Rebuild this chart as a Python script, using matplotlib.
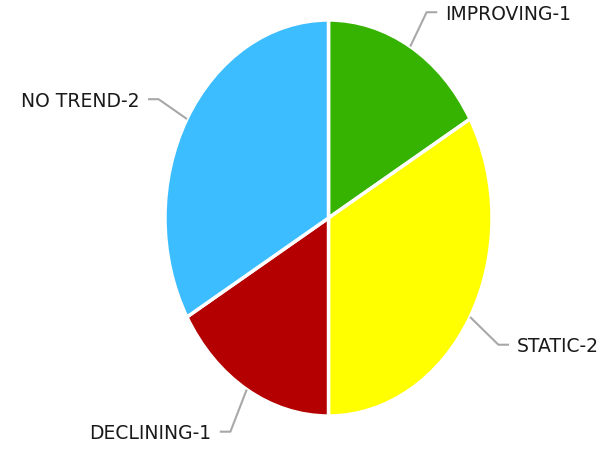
import numpy as np
import matplotlib.pyplot as plt

# dados do gráfico de tendências
categorias = ['IMPROVING', 'STATIC', 'DECLINING', 'NO TREND']
valores = [1, 2, 1, 2]
cores = ['#36b300', '#ffff00', '#b40000', '#3bbdff']

fig = plt.figure(figsize=(6.14, 4.5), dpi=100)
# eixo esticado na vertical -> a pizza vira uma elipse
ax = fig.add_axes([165 / 614, 34 / 450, 327 / 614, 396 / 450])

wedges, _ = ax.pie(valores, colors=cores, startangle=90, counterclock=False,
                   wedgeprops=dict(edgecolor='white', linewidth=2.5))
ax.set_aspect('auto')
ax.set_xlim(-1, 1)
ax.set_ylim(-1, 1)
ax.axis('off')

# rótulos com linhas de chamada
for w, nome, v in zip(wedges, categorias, valores):
    ang = np.deg2rad((w.theta1 + w.theta2) / 2)
    x0, y0 = np.cos(ang), np.sin(ang)
    xe, ye = 1.2 * x0, 1.2 * y0 + (-0.04 if y0 < 0 else 0)
    lado = 1 if x0 > 0 else -1
    xh = xe + lado * 0.065
    ax.plot([x0, xe, xh], [y0, ye, ye], color='#a8a8a8', lw=1.5,
            clip_on=False, solid_capstyle='butt')
    ax.text(xh + lado * 0.05, ye - 0.01, f'{nome}-{v}', fontsize=13.5,
            ha='left' if lado > 0 else 'right', va='center', color='#1a1a1a')

fig.savefig('out.png', dpi=100)
